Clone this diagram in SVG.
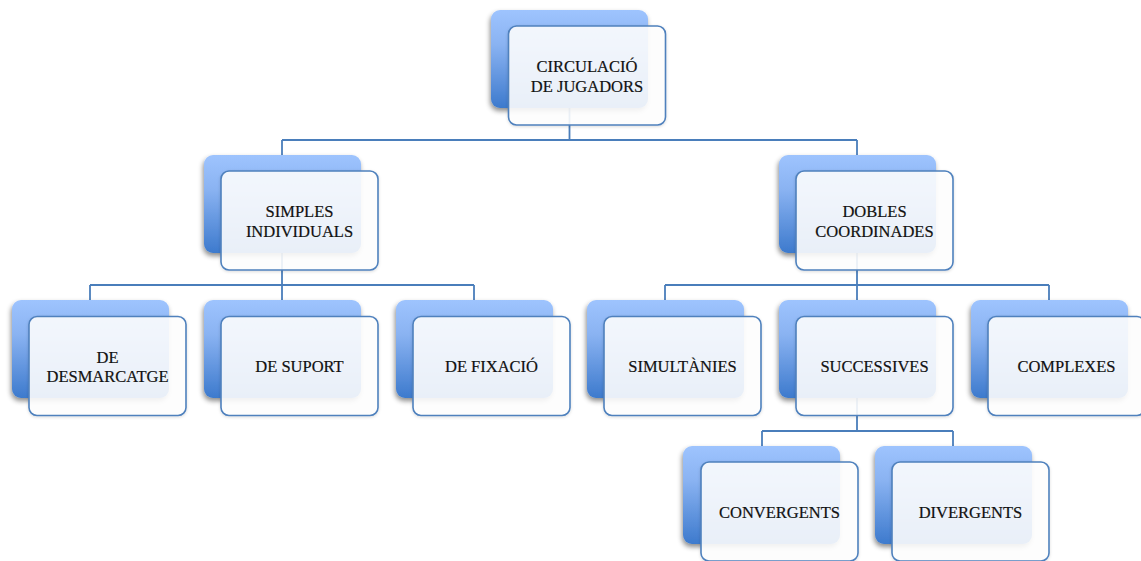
<svg xmlns="http://www.w3.org/2000/svg" width="1141" height="561" viewBox="0 0 1141 561">
<defs>
<linearGradient id="bg" x1="0" y1="0" x2="0" y2="1">
<stop offset="0" stop-color="#9EC4FE"/>
<stop offset="0.35" stop-color="#8AB3F2"/>
<stop offset="1" stop-color="#3D7ACD"/>
</linearGradient>
<filter id="sh" x="-20%" y="-20%" width="140%" height="150%">
<feDropShadow dx="-1" dy="3" stdDeviation="2.5" flood-color="#000" flood-opacity="0.45"/>
</filter>
<filter id="sh2" x="-20%" y="-20%" width="140%" height="150%">
<feDropShadow dx="0" dy="1" stdDeviation="1.5" flood-color="#000" flood-opacity="0.15"/>
</filter>
</defs>
<style>
.back{fill:url(#bg);filter:url(#sh)}
.front{fill:#ffffff;fill-opacity:0.88;stroke:#4F81BD;stroke-width:1.6;filter:url(#sh2)}
.conn{fill:none;stroke:#4A7EBB;stroke-width:1.8}
text{font-family:"Liberation Serif","Times New Roman",serif;font-size:16.5px;fill:#111;stroke:#111;stroke-width:0.2;text-anchor:middle}
</style>
<g id="connectors" class="conn">
<path d="M569.5,108 V140 M282,140 H857 M282,140 V155 M857,140 V155"/>
<path d="M282,253 V285 M90,285 H474 M90,285 V300 M282,285 V300 M474,285 V300"/>
<path d="M857,253 V285 M665,285 H1049 M665,285 V300 M857,285 V300 M1049,285 V300"/>
<path d="M857,398 V431 M762,431 H953 M762,431 V446 M953,431 V446"/>
</g>
<g id="n-circulacio">
<rect class="back" x="491" y="10" width="157" height="98" rx="9"/>
<rect class="front" x="508.5" y="26" width="157" height="99" rx="8"/>
<text x="587" y="72">CIRCULACIÓ</text>
<text x="587" y="92">DE JUGADORS</text>
</g>
<g id="n-simples">
<rect class="back" x="204" y="155" width="157" height="98" rx="9"/>
<rect class="front" x="221" y="171" width="157" height="99" rx="8"/>
<text x="299.5" y="217">SIMPLES</text>
<text x="299.5" y="237">INDIVIDUALS</text>
</g>
<g id="n-dobles">
<rect class="back" x="779" y="155" width="157" height="98" rx="9"/>
<rect class="front" x="796" y="171" width="157" height="99" rx="8"/>
<text x="874.5" y="217">DOBLES</text>
<text x="874.5" y="237">COORDINADES</text>
</g>
<g id="n-desmarcatge">
<rect class="back" x="12" y="300" width="157" height="98" rx="9"/>
<rect class="front" x="29" y="316.5" width="157" height="99" rx="8"/>
<text x="107.5" y="363">DE</text>
<text x="107.5" y="382">DESMARCATGE</text>
</g>
<g id="n-suport">
<rect class="back" x="204" y="300" width="157" height="98" rx="9"/>
<rect class="front" x="221" y="316.5" width="157" height="99" rx="8"/>
<text x="299.5" y="372">DE SUPORT</text>
</g>
<g id="n-fixacio">
<rect class="back" x="396" y="300" width="157" height="98" rx="9"/>
<rect class="front" x="413" y="316.5" width="157" height="99" rx="8"/>
<text x="491.5" y="372">DE FIXACIÓ</text>
</g>
<g id="n-simultanies">
<rect class="back" x="587" y="300" width="157" height="98" rx="9"/>
<rect class="front" x="604" y="316.5" width="157" height="99" rx="8"/>
<text x="682.5" y="372">SIMULTÀNIES</text>
</g>
<g id="n-successives">
<rect class="back" x="779" y="300" width="157" height="98" rx="9"/>
<rect class="front" x="796" y="316.5" width="157" height="99" rx="8"/>
<text x="874.5" y="372">SUCCESSIVES</text>
</g>
<g id="n-complexes">
<rect class="back" x="971" y="300" width="157" height="98" rx="9"/>
<rect class="front" x="988" y="316.5" width="157" height="99" rx="8"/>
<text x="1066.5" y="372">COMPLEXES</text>
</g>
<g id="n-convergents">
<rect class="back" x="683" y="446" width="157" height="98" rx="9"/>
<rect class="front" x="701" y="462" width="157" height="99" rx="8"/>
<text x="779.5" y="518">CONVERGENTS</text>
</g>
<g id="n-divergents">
<rect class="back" x="875" y="446" width="157" height="98" rx="9"/>
<rect class="front" x="892" y="462" width="157" height="99" rx="8"/>
<text x="970.5" y="518">DIVERGENTS</text>
</g>
</svg>
